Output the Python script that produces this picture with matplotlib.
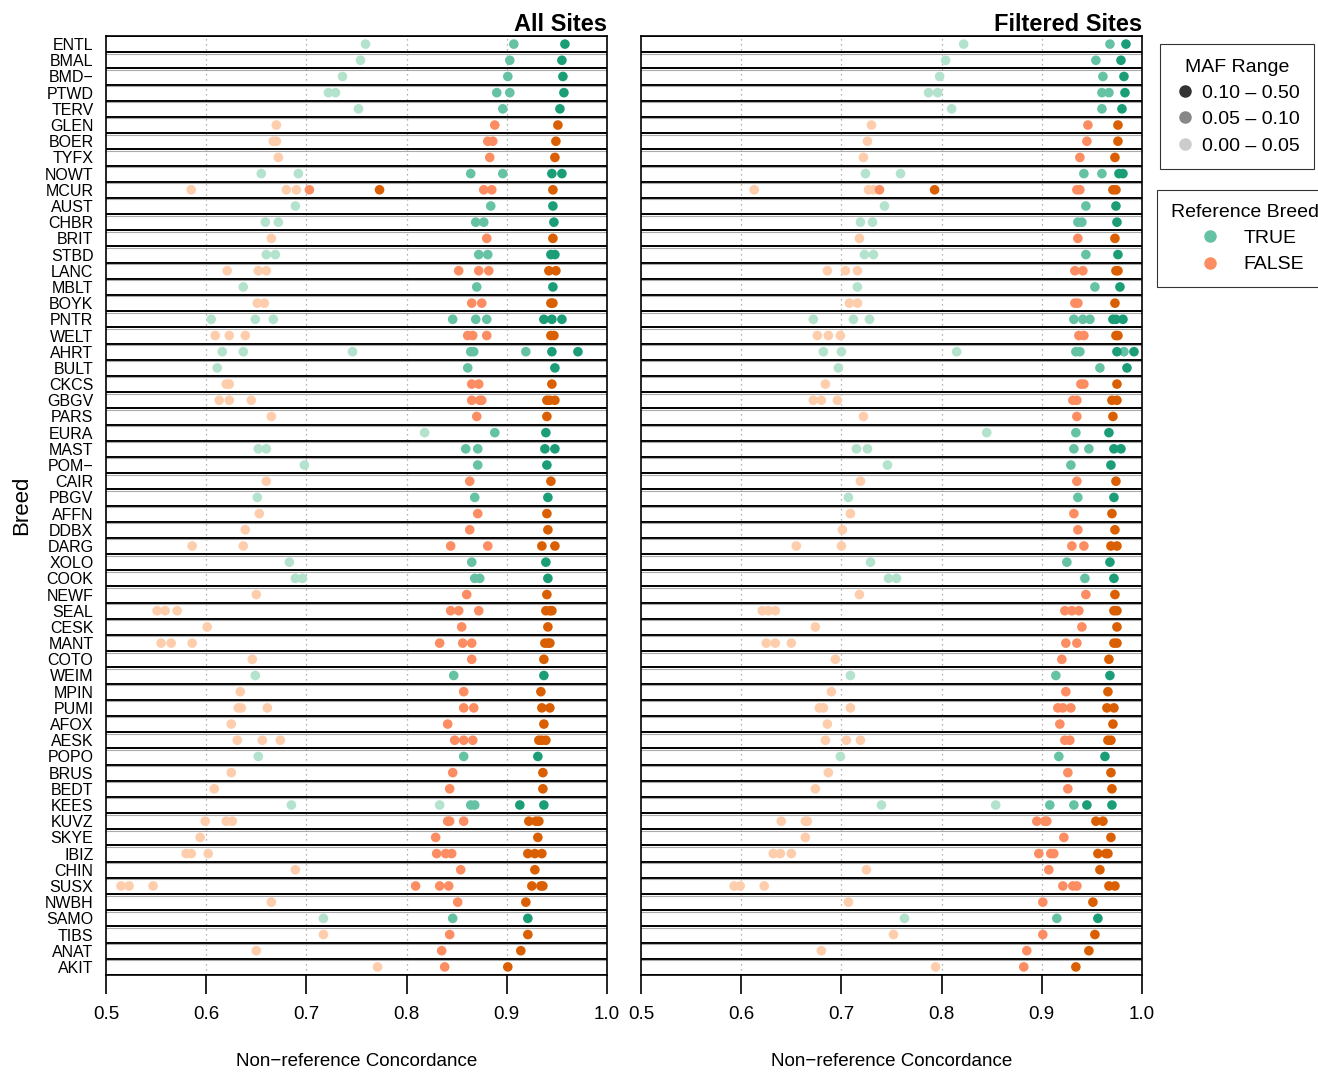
import matplotlib
matplotlib.use("Agg")
import matplotlib.pyplot as plt
from matplotlib.lines import Line2D

plt.rcParams['font.family'] = ['Liberation Sans', 'DejaVu Sans']

# breeds, top to bottom
breeds = ["ENTL", "BMAL", "BMD−", "PTWD", "TERV", "GLEN", "BOER", "TYFX", "NOWT", "MCUR",
          "AUST", "CHBR", "BRIT", "STBD", "LANC", "MBLT", "BOYK", "PNTR", "WELT", "AHRT",
          "BULT", "CKCS", "GBGV", "PARS", "EURA", "MAST", "POM−", "CAIR", "PBGV", "AFFN",
          "DDBX", "DARG", "XOLO", "COOK", "NEWF", "SEAL", "CESK", "MANT", "COTO", "WEIM",
          "MPIN", "PUMI", "AFOX", "AESK", "POPO", "BRUS", "BEDT", "KEES", "KUVZ", "SKYE",
          "IBIZ", "CHIN", "SUSX", "NWBH", "SAMO", "TIBS", "ANAT", "AKIT"]

# breeds present in the reference panel
ref_breeds = ["ENTL", "BMAL", "BMD−", "PTWD", "TERV", "NOWT", "AUST", "CHBR", "STBD", "MBLT",
              "PNTR", "AHRT", "BULT", "EURA", "MAST", "POM−", "PBGV", "XOLO", "COOK", "WEIM",
              "POPO", "KEES", "SAMO"]

# concordance per breed, all sites, MAF 0.00-0.05
all_low = [[0.759], [0.754], [0.736], [0.722, 0.729], [0.752], [0.670], [0.667, 0.670], [0.672],
           [0.655, 0.692], [0.585, 0.680, 0.690], [0.689], [0.659, 0.672], [0.665], [0.660, 0.669],
           [0.621, 0.652, 0.660], [0.637], [0.651, 0.658], [0.605, 0.649, 0.667], [0.609, 0.623, 0.639],
           [0.616, 0.637, 0.746], [0.611], [0.620, 0.623], [0.613, 0.623, 0.645], [0.665], [0.818],
           [0.652, 0.660], [0.698], [0.660], [0.651], [0.653], [0.639], [0.586, 0.637], [0.683],
           [0.689, 0.696], [0.650], [0.551, 0.559, 0.571], [0.601], [0.555, 0.565, 0.586], [0.646],
           [0.649], [0.634], [0.632, 0.635, 0.661], [0.625], [0.631, 0.656, 0.674], [0.652], [0.625],
           [0.608], [0.685, 0.833], [0.599, 0.620, 0.626], [0.594], [0.580, 0.585, 0.602], [0.689],
           [0.515, 0.523, 0.547], [0.665], [0.717], [0.717], [0.650], [0.771]]
# all sites, MAF 0.05-0.10
all_mid = [[0.907], [0.903], [0.901], [0.890, 0.903], [0.896], [0.888], [0.881, 0.886], [0.883],
           [0.864, 0.896], [0.703, 0.877, 0.885], [0.884], [0.869, 0.877], [0.880], [0.872, 0.881],
           [0.852, 0.872, 0.882], [0.870], [0.865, 0.875], [0.846, 0.869, 0.880], [0.861, 0.866, 0.880],
           [0.864, 0.867, 0.919], [0.861], [0.865, 0.872], [0.865, 0.873, 0.875], [0.870], [0.888],
           [0.859, 0.871], [0.871], [0.863], [0.868], [0.871], [0.863], [0.844, 0.881], [0.865],
           [0.868, 0.873], [0.860], [0.844, 0.852, 0.872], [0.855], [0.833, 0.856, 0.865], [0.865],
           [0.847], [0.857], [0.857, 0.867], [0.841], [0.848, 0.857, 0.866], [0.857], [0.846],
           [0.843], [0.864, 0.868], [0.841, 0.843, 0.857], [0.829], [0.830, 0.839, 0.845], [0.854],
           [0.809, 0.833, 0.842], [0.851], [0.846], [0.843], [0.835], [0.838]]
# all sites, MAF 0.10-0.50
all_high = [[0.958], [0.955], [0.956], [0.957], [0.953], [0.951], [0.949], [0.948],
            [0.945, 0.955], [0.773, 0.946], [0.946], [0.947], [0.946], [0.944, 0.948],
            [0.942, 0.949], [0.946], [0.944, 0.946], [0.937, 0.945, 0.955], [0.944, 0.947],
            [0.945, 0.971], [0.948], [0.945], [0.940, 0.943, 0.948], [0.940], [0.939],
            [0.938, 0.948], [0.940], [0.944], [0.941], [0.940], [0.941], [0.935, 0.948], [0.939],
            [0.941], [0.940], [0.939, 0.943, 0.945], [0.941], [0.938, 0.941, 0.943], [0.937],
            [0.937], [0.934], [0.935, 0.943], [0.937], [0.932, 0.935, 0.939], [0.931], [0.936],
            [0.936], [0.913, 0.937], [0.922, 0.929, 0.932], [0.931], [0.921, 0.928, 0.935], [0.928],
            [0.925, 0.934, 0.936], [0.919], [0.921], [0.921], [0.914], [0.901]]

# filtered sites, MAF 0.00-0.05
filt_low = [[0.822], [0.804], [0.798], [0.787, 0.796], [0.810], [0.730], [0.726], [0.722],
            [0.724, 0.759], [0.613, 0.727, 0.732], [0.743], [0.719, 0.731], [0.718], [0.723, 0.732],
            [0.686, 0.704, 0.716], [0.716], [0.708, 0.716], [0.672, 0.712, 0.728], [0.676, 0.687, 0.699],
            [0.682, 0.700, 0.815], [0.697], [0.684], [0.672, 0.680, 0.696], [0.722], [0.845],
            [0.715, 0.726], [0.746], [0.719], [0.707], [0.709], [0.701], [0.655, 0.700], [0.729],
            [0.747, 0.755], [0.718], [0.621, 0.627, 0.634], [0.674], [0.625, 0.634, 0.650], [0.694],
            [0.709], [0.690], [0.678, 0.682, 0.709], [0.686], [0.684, 0.705, 0.719], [0.699], [0.687],
            [0.674], [0.740, 0.854], [0.640, 0.664, 0.666], [0.664], [0.632, 0.639, 0.650], [0.725],
            [0.593, 0.599, 0.623], [0.707], [0.763], [0.752], [0.680], [0.794]]
# filtered sites, MAF 0.05-0.10
filt_mid = [[0.968], [0.954], [0.961], [0.960, 0.967], [0.960], [0.946], [0.945], [0.938],
            [0.942, 0.960], [0.738, 0.935, 0.938], [0.944], [0.936, 0.940], [0.936], [0.944],
            [0.933, 0.941], [0.953], [0.933, 0.936], [0.932, 0.941, 0.948], [0.937, 0.942],
            [0.934, 0.938, 0.982], [0.958], [0.939, 0.942], [0.931, 0.935], [0.935], [0.934],
            [0.932, 0.947], [0.929], [0.935], [0.936], [0.932], [0.936], [0.930, 0.942], [0.925],
            [0.943], [0.944], [0.923, 0.930, 0.937], [0.940], [0.924, 0.935], [0.920],
            [0.914], [0.924], [0.916, 0.921, 0.929], [0.918], [0.923, 0.928], [0.917], [0.926],
            [0.926], [0.908, 0.932], [0.895, 0.903, 0.905], [0.922], [0.897, 0.909, 0.912], [0.907],
            [0.921, 0.931, 0.935], [0.901], [0.915], [0.901], [0.885], [0.882]]
# filtered sites, MAF 0.10-0.50
filt_high = [[0.984], [0.979], [0.982], [0.983], [0.980], [0.976], [0.976], [0.973],
             [0.977, 0.981], [0.793, 0.971, 0.974], [0.974], [0.975], [0.973], [0.976],
             [0.974, 0.976], [0.978], [0.973], [0.971, 0.974, 0.981], [0.974, 0.976],
             [0.975, 0.992], [0.985], [0.975], [0.970, 0.975], [0.971], [0.967],
             [0.972, 0.979], [0.969], [0.974], [0.972], [0.970], [0.973], [0.969, 0.975], [0.968],
             [0.972], [0.973], [0.972, 0.975], [0.975], [0.972, 0.975], [0.967],
             [0.968], [0.966], [0.965, 0.972], [0.971], [0.966, 0.969], [0.963], [0.969],
             [0.970], [0.945, 0.970], [0.954, 0.961], [0.969], [0.956, 0.964, 0.966], [0.958],
             [0.967, 0.973], [0.951], [0.956], [0.953], [0.947], [0.934]]

# colours: (reference breed?, MAF level)
colors = {
    (True, 0): '#b3e2cd', (True, 1): '#66c2a5', (True, 2): '#1b9e77',
    (False, 0): '#fdcdac', (False, 1): '#fc8d62', (False, 2): '#d95f02',
}

W, H = 1318, 1073
fig = plt.figure(figsize=(W / 100, H / 100), dpi=100)

bottom = 1 - 975 / H
height = (975 - 36) / H
ax_all = fig.add_axes([106 / W, bottom, 501 / W, height])
ax_filt = fig.add_axes([641 / W, bottom, 501 / W, height])

n = len(breeds)


def draw_panel(ax, levels, title):
    for lvl, data in enumerate(levels):
        for i, vals in enumerate(data):
            is_ref = breeds[i] in ref_breeds
            ax.scatter(vals, [i] * len(vals), s=48, color=colors[(is_ref, lvl)],
                       edgecolors='none', zorder=3 + lvl)
    for x in [0.6, 0.7, 0.8, 0.9]:
        ax.axvline(x, color='#999999', lw=0.9, ls=(0, (1, 3)), zorder=1)
    # row boxes
    for k in range(n + 1):
        ax.axhline(k - 0.5, color='black', lw=1.4, zorder=2)
        if 0 < k < n:
            ax.axhline(k - 0.5 + 0.09, color='#aaaaaa', lw=0.8, zorder=2)
    ax.set_xlim(0.5, 1.0)
    ax.set_ylim(n - 0.5, -0.5)
    ax.set_xticks([0.5, 0.6, 0.7, 0.8, 0.9, 1.0])
    ax.set_xticklabels(['0.5', '0.6', '0.7', '0.8', '0.9', '1.0'])
    ax.tick_params(axis='x', direction='out', length=14, width=1.2, labelsize=13.5, pad=8)
    ax.tick_params(axis='y', length=0)
    for sp in ax.spines.values():
        sp.set_linewidth(1.2)
    ax.set_title(title, loc='right', fontsize=17, fontweight='bold', pad=2)
    ax.set_xlabel('Non−reference Concordance', fontsize=13.5, labelpad=22)


draw_panel(ax_all, [all_low, all_mid, all_high], 'All Sites')
draw_panel(ax_filt, [filt_low, filt_mid, filt_high], 'Filtered Sites')

ax_all.set_yticks(range(n))
ax_all.set_yticklabels(breeds, fontsize=11.5)
ax_all.tick_params(axis='y', pad=9)
ax_all.set_ylabel('Breed', fontsize=16, labelpad=9)
ax_filt.set_yticks([])

# legends
maf_handles = [Line2D([], [], marker='o', ls='none', color=c, markersize=8)
               for c in ['#333333', '#888888', '#cccccc']]
leg1 = fig.legend(maf_handles, ['0.10 – 0.50', '0.05 – 0.10', '0.00 – 0.05'],
                  title='MAF Range', loc='upper left', bbox_to_anchor=(1160 / W, 1 - 44 / H),
                  borderaxespad=0, fontsize=14, title_fontsize=14, frameon=True,
                  fancybox=False, edgecolor='black', handletextpad=0.3, borderpad=0.75,
                  labelspacing=0.45, handlelength=1.1)
leg1.get_frame().set_linewidth(0.8)
ref_handles = [Line2D([], [], marker='o', ls='none', color=c, markersize=8)
               for c in ['#66c2a5', '#fc8d62']]
leg2 = fig.legend(ref_handles, ['TRUE', 'FALSE'], title='Reference Breed',
                  loc='upper left', bbox_to_anchor=(1157 / W, 1 - 190 / H),
                  borderaxespad=0, fontsize=14, title_fontsize=14, frameon=True,
                  fancybox=False, edgecolor='black', handletextpad=0.4, borderpad=0.7,
                  labelspacing=0.45, handlelength=2.6)
leg2.get_frame().set_linewidth(0.8)

fig.text(0.002, 1 - 5 / H, 'A', fontsize=20, fontweight='bold', va='bottom', ha='left')

fig.savefig('out.png', dpi=100)
